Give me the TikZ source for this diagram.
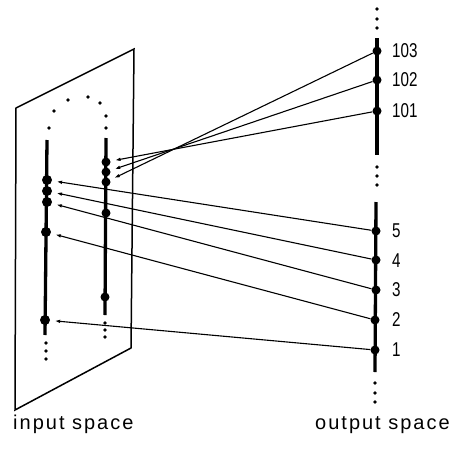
\documentclass[tikz,border=0pt]{standalone}
\usepackage{fontspec}
\usetikzlibrary{arrows.meta}
\newfontfamily\lettering[LetterSpace=10]{Liberation Sans}
\newfontfamily\digits[FakeStretch=0.76]{Liberation Sans}
\tikzset{
  dot/.style={circle, fill=black, inner sep=0pt, minimum size=9pt},
  bigdot/.style={circle, fill=black, inner sep=0pt, minimum size=10pt},
  axis/.style={line width=3.3pt},
  plane/.style={line width=1.5pt, line join=miter},
  link/.style={line width=1.1pt, -{Latex[length=5.5pt,width=3.6pt]}, shorten >=4.5pt},
  num/.style={anchor=west, inner sep=0pt, font=\digits\fontsize{20}{22}\selectfont},
  caption/.style={anchor=base west, inner sep=0pt, font=\lettering\fontsize{20}{22}\selectfont}
}
\begin{document}
\begin{tikzpicture}[x=1pt, y=-1pt]
\useasboundingbox (0,0) rectangle (458,458);

% input plane
\draw[plane] (16,108) -- (134,49) -- (131,348) -- (15,410) -- cycle;

% arc of dots joining the two strands
\foreach \p in {(49,128),(54,111),(68,100),(88,97),(100,103),(106,116),(106,128)}
  \fill \p circle (1.8pt);

% left strand
\draw[axis] (47,140) -- (45,335);
\node[bigdot] (i1) at (47,180) {};
\node[bigdot] (i2) at (47,191) {};
\node[bigdot] (i3) at (47,202) {};
\node[bigdot] (i4) at (46,232) {};
\node[bigdot] (i5) at (45,320) {};
\foreach \y in {343,351,359} \fill (46,\y) circle (1.8pt);

% right strand
\draw[axis] (106,138) -- (105,315);
\node[dot] (j1) at (106,162) {};
\node[dot] (j2) at (106,172) {};
\node[dot] (j3) at (106,182) {};
\node[dot] (j4) at (106,213) {};
\node[dot] (j5) at (105,297) {};
\foreach \y in {323,330,337} \fill (105,\y) circle (1.8pt);

% output line, upper part
\foreach \y in {9,19,28} \fill (377,\y) circle (1.8pt);
\draw[axis] (377,38) -- (377,155);
\node[dot] (o103) at (377,51) {};
\node[dot] (o102) at (377,80) {};
\node[dot] (o101) at (377,111) {};
\foreach \y in {167,176,185} \fill (377,\y) circle (1.8pt);

% output line, lower part
\draw[axis] (376,202) -- (375,372);
\node[dot] (o5) at (376,231) {};
\node[dot] (o4) at (376,260) {};
\node[dot] (o3) at (376,290) {};
\node[dot] (o2) at (375,320) {};
\node[dot] (o1) at (375,350) {};
\foreach \y in {383,393,402} \fill (375,\y) circle (1.8pt);

% labels of the output points
\node[num] at (392,51) {103};
\node[num] at (392,80) {102};
\node[num] at (392,111) {101};
\node[num] at (392,231) {5};
\node[num] at (392,261) {4};
\node[num] at (392,290) {3};
\node[num] at (392,320) {2};
\node[num] at (392,350) {1};

% mapping from output points back to input points
\draw[link] (o103) -- (j3);
\draw[link] (o102) -- (j2);
\draw[link] (o101) -- (j1);
\draw[link] (o5) -- (i1);
\draw[link] (o4) -- (i2);
\draw[link] (o3) -- (i3);
\draw[link] (o2) -- (i4);
\draw[link] (o1) -- (i5);

% captions
\node[caption] at (13,429) {input space};
\node[caption] at (315,429) {output space};
\end{tikzpicture}
\end{document}
